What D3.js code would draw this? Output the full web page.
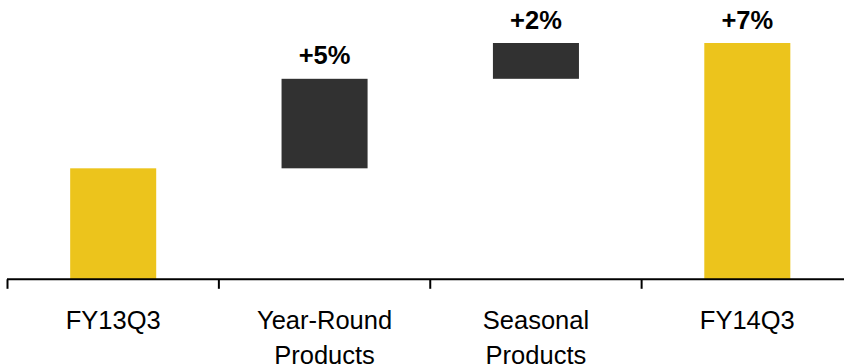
<!DOCTYPE html>
<html>
<head>
<meta charset="utf-8">
<script src="https://cdn.jsdelivr.net/npm/d3@7"></script>
<style>
  html, body { margin: 0; padding: 0; background: #fff; }
  svg { display: block; }
</style>
</head>
<body>
<svg id="chart" width="844" height="364"></svg>
<script>
// Sales bridge: FY13Q3 indexed to 100, growth contributions in percentage points
const categories = ["FY13Q3", "Year-Round Products", "Seasonal Products", "FY14Q3"];
const baseIndex = 100;
const changes = [5, 2];          // Year-Round, Seasonal
const changeLabels = ["+5%", "+2%"];
const totalLabel = "+7%";
const axisMin = 93.8;

const steps = [];
let running = baseIndex;
steps.push({ cat: categories[0], y0: axisMin, y1: baseIndex, type: "total", label: null });
changes.forEach((c, i) => {
  steps.push({ cat: categories[i + 1], y0: running, y1: running + c, type: "delta", label: changeLabels[i] });
  running += c;
});
steps.push({ cat: categories[3], y0: axisMin, y1: running, type: "total", label: totalLabel });

const svg = d3.select("#chart");
const baseline = 279.3;

const x = d3.scaleBand()
  .domain(categories)
  .range([7.5, 853])
  .paddingInner(0.593)
  .paddingOuter(0.2965);

const y = d3.scaleLinear()
  .domain([axisMin, baseIndex + 7])
  .range([baseline, 43]);

const colors = { total: "#ecc41c", delta: "#313131" };

svg.append("g")
  .selectAll("rect")
  .data(steps)
  .join("rect")
  .attr("x", d => x(d.cat))
  .attr("width", x.bandwidth())
  .attr("y", d => y(Math.max(d.y0, d.y1)))
  .attr("height", d => Math.abs(y(d.y0) - y(d.y1)))
  .attr("fill", d => colors[d.type]);

svg.append("g")
  .selectAll("text")
  .data(steps.filter(d => d.label))
  .join("text")
  .attr("x", d => x(d.cat) + x.bandwidth() / 2)
  .attr("y", d => y(Math.max(d.y0, d.y1)) - 14.5)
  .attr("text-anchor", "middle")
  .attr("font-family", "Liberation Sans, Arial, sans-serif")
  .attr("font-weight", "bold")
  .attr("font-size", "25.5px")
  .attr("fill", "#000")
  .text(d => d.label);

// Category axis with ticks on band boundaries
const axisG = svg.append("g");
axisG.append("line")
  .attr("x1", 7).attr("x2", 844)
  .attr("y1", baseline).attr("y2", baseline)
  .attr("stroke", "#000").attr("stroke-width", 2);

const step = x.step();
const bounds = categories.map((c, i) => x(c) - x.paddingOuter() * step + i * 0); 
const tickXs = categories.map((c, i) => 7.5 + i * step);
axisG.selectAll("line.tick")
  .data(tickXs)
  .join("line")
  .attr("class", "tick")
  .attr("x1", d => d).attr("x2", d => d)
  .attr("y1", baseline).attr("y2", baseline + 9.5)
  .attr("stroke", "#000").attr("stroke-width", 2);

const labelG = axisG.selectAll("text.cat")
  .data(categories)
  .join("text")
  .attr("class", "cat")
  .attr("text-anchor", "middle")
  .attr("font-family", "Liberation Sans, Arial, sans-serif")
  .attr("font-size", "25.5px")
  .attr("fill", "#000")
  .attr("x", d => x(d) + x.bandwidth() / 2)
  .attr("y", 328.5);

labelG.each(function(d) {
  const words = d.startsWith("FY") ? [d] : [d.split(" ")[0], d.split(" ").slice(1).join(" ")];
  const t = d3.select(this);
  words.forEach((w, i) => {
    t.append("tspan")
      .attr("x", x(d) + x.bandwidth() / 2)
      .attr("dy", i === 0 ? 0 : 35)
      .text(w);
  });
});
</script>
</body>
</html>
